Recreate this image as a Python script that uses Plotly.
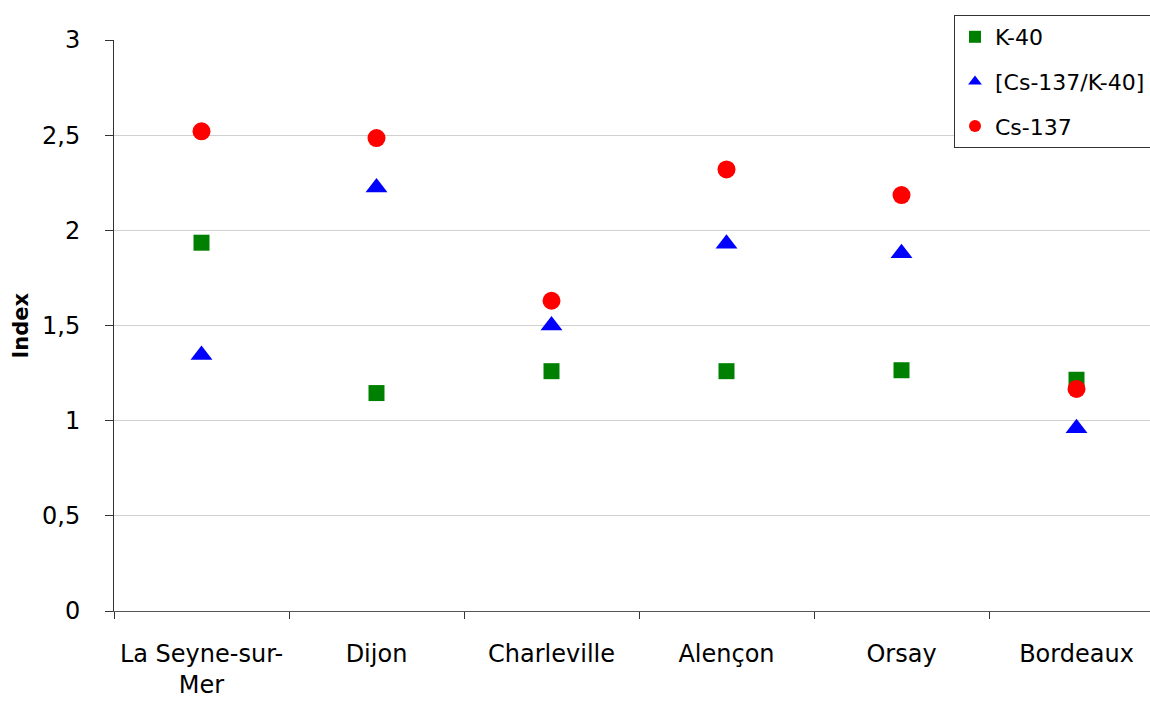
import plotly.graph_objects as go

cities = ["La Seyne-sur-<br>Mer", "Dijon", "Charleville", "Alençon", "Orsay", "Bordeaux"]
k40 = [1.935, 1.145, 1.26, 1.26, 1.265, 1.215]
ratio = [1.345, 2.225, 1.50, 1.93, 1.88, 0.96]
cs137 = [2.52, 2.485, 1.63, 2.32, 2.185, 1.167]
y_title = "Index"

FONT = "DejaVu Sans"
W, H = 1150, 702

fig = go.Figure()
fig.add_trace(go.Scatter(x=cities, y=k40, mode="markers", name="K-40", legendgroup="a",
                         marker=dict(symbol="square", size=16, color="#008000")))
fig.add_trace(go.Scatter(x=cities, y=ratio, mode="markers", name="[Cs-137/K-40]", legendgroup="b",
                         marker=dict(symbol="triangle-up", size=19, color="#0000FF")))
fig.add_trace(go.Scatter(x=cities, y=cs137, mode="markers", name="Cs-137", legendgroup="c",
                         marker=dict(symbol="circle", size=18, color="#FF0000")))

fig.update_layout(
    width=W, height=H,
    margin=dict(l=114, r=0, t=40, b=91, autoexpand=False),
    paper_bgcolor="white", plot_bgcolor="white",
    font=dict(family=FONT, size=24, color="black"),
    showlegend=True,
    legend=dict(x=954 / W, y=1 - 15 / H, xref="container", yref="container",
                xanchor="left", yanchor="top",
                bordercolor="#333333", borderwidth=1, bgcolor="white",
                font=dict(family=FONT, size=22), tracegroupgap=13,
                traceorder="grouped", itemsizing="constant"),
    xaxis=dict(range=[-0.5, 5.42], showgrid=False, showline=True, linecolor="#555555",
               linewidth=1, ticks="outside", tickson="boundaries", ticklen=7,
               tickcolor="#333333", tickfont=dict(size=24), zeroline=False,
               automargin=False, ticklabelstandoff=21),
    yaxis=dict(range=[0, 3], showgrid=True, gridcolor="#d0d0d0",
               showline=True, linecolor="#333333", ticks="outside", ticklen=8,
               tickcolor="#333333", zeroline=False, automargin=False,
               tickvals=[0, 0.5, 1, 1.5, 2, 2.5, 3],
               ticktext=["0", "0,5", "1", "1,5", "2", "2,5", "3"],
               tickfont=dict(size=24), ticklabelstandoff=20),
    annotations=[dict(text="<b>" + y_title + "</b>", xref="paper", yref="paper",
                      x=-94 / 1036, y=0.5, xanchor="center", yanchor="middle",
                      textangle=-90, showarrow=False,
                      font=dict(family=FONT, size=21, color="black"))],
)

fig.write_html("out.html", config={"displayModeBar": False},
               post_script="document.body.style.margin='0';")
